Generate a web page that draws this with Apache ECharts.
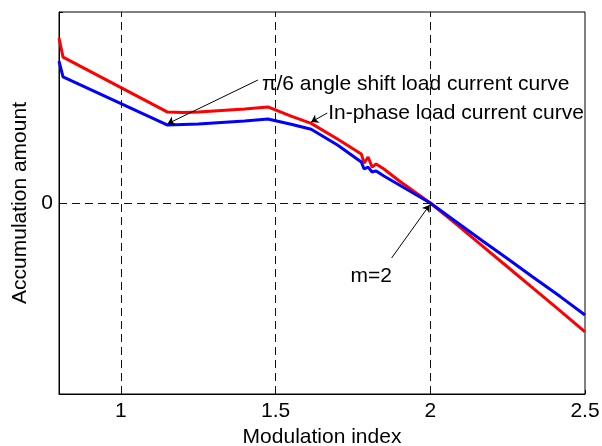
<!DOCTYPE html>
<html>
<head>
<meta charset="utf-8">
<script src="https://cdn.jsdelivr.net/npm/echarts@6/dist/echarts.min.js"></script>
<style>
  html, body { margin: 0; padding: 0; background: #fff; }
  #chart { width: 602px; height: 446px; }
</style>
</head>
<body>
<div id="chart"></div>
<script>
// modulation index samples
var mIndex = [0.800, 0.813, 1.151, 1.20, 1.25, 1.30, 1.35, 1.40, 1.475, 1.55, 1.615, 1.70,
  1.777, 1.786, 1.799, 1.812, 1.825, 1.85, 1.90, 1.95, 2.00, 2.08, 2.167, 2.25, 2.329, 2.42, 2.50]
// in-phase load current curve (red)
var inPhase = [0.864, 0.764, 0.476, 0.474, 0.476, 0.482, 0.487, 0.492, 0.503, 0.455, 0.417, 0.335,
  0.257, 0.209, 0.241, 0.188, 0.204, 0.178, 0.115, 0.058, 0, -0.105, -0.223, -0.335, -0.442, -0.565, -0.675]
// pi/6 angle shift load current curve (blue)
var shifted = [0.743, 0.660, 0.408, 0.411, 0.414, 0.419, 0.424, 0.429, 0.440, 0.412, 0.386, 0.304,
  0.215, 0.178, 0.188, 0.162, 0.168, 0.141, 0.094, 0.047, 0, -0.094, -0.196, -0.292, -0.385, -0.490, -0.586]

var xTicks = [1, 1.5, 2, 2.5]
var gridX = [1, 1.5, 2]
var gridY = [0]

// annotations: text anchor [x, y], arrow tail, arrow head
var notes = [
  { text: 'π/6 angle shift load current curve', at: [1.456, 0.623], from: [1.443, 0.644], to: [1.151, 0.415] },
  { text: 'In-phase load current curve', at: [1.670, 0.471], from: [1.667, 0.471], to: [1.615, 0.424] },
  { text: 'm=2', at: [1.742, -0.382], from: [1.875, -0.288], to: [1.998, -0.01] }
]

var font = 'Liberation Sans, Arial, sans-serif'

function pairs(xs, ys) {
  return xs.map(function (x, i) { return [x, ys[i]] })
}

var chart = echarts.init(document.getElementById('chart'))

var gridLines = gridX.map(function (v) { return { xAxis: v } })
  .concat(gridY.map(function (v) { return { yAxis: v } }))

var arrows = notes.map(function (n) {
  return [{ coord: n.from }, { coord: n.to }]
})

chart.setOption({
  backgroundColor: '#fff',
  animation: false,
  grid: {
    left: 59,
    right: 17,
    top: 12,
    bottom: 52,
    outerBoundsMode: 'none',
    containLabel: false,
    show: true,
    borderColor: '#000',
    borderWidth: 1
  },
  xAxis: {
    type: 'value',
    min: 0.8,
    max: 2.5,
    name: 'Modulation index',
    nameLocation: 'middle',
    nameGap: 30,
    nameTextStyle: { color: '#000', fontSize: 21, fontFamily: font },
    axisLine: { onZero: false, lineStyle: { color: '#000' } },
    axisTick: { show: true, inside: true, length: 4, customValues: xTicks, lineStyle: { color: '#000' } },
    axisLabel: { customValues: xTicks, color: '#000', fontSize: 21, fontFamily: font, margin: 7 },
    splitLine: { show: false }
  },
  yAxis: {
    type: 'value',
    min: -1,
    max: 1,
    interval: 1,
    name: 'Accumulation amount',
    nameLocation: 'middle',
    nameGap: 28,
    nameTextStyle: { color: '#000', fontSize: 21, fontFamily: font },
    axisLine: { onZero: false, lineStyle: { color: '#000' } },
    axisTick: { show: true, inside: true, length: 4, lineStyle: { color: '#000' } },
    axisLabel: {
      color: '#000', fontSize: 21, fontFamily: font, margin: 6,
      formatter: function (v) { return v === 0 ? '0' : '' }
    },
    splitLine: { show: false }
  },
  series: [
    {
      name: 'grid',
      type: 'line',
      data: [],
      z: 1,
      markLine: {
        silent: true,
        symbol: ['none', 'none'],
        label: { show: false },
        lineStyle: { color: '#111', width: 1, type: [8, 5] },
        data: gridLines
      }
    },
    {
      name: 'In-phase load current curve',
      type: 'line',
      data: pairs(mIndex, inPhase),
      showSymbol: false,
      z: 3,
      lineStyle: { color: '#ff0000', width: 3 },
      itemStyle: { color: '#ff0000' }
    },
    {
      name: 'π/6 angle shift load current curve',
      type: 'line',
      data: pairs(mIndex, shifted),
      showSymbol: false,
      z: 4,
      lineStyle: { color: '#0000ff', width: 3 },
      itemStyle: { color: '#0000ff' }
    },
    {
      name: 'notes',
      type: 'line',
      data: [],
      z: 6,
      markLine: {
        silent: true,
        symbol: ['none', 'arrow'],
        symbolSize: 7,
        label: { show: false },
        lineStyle: { color: '#000', width: 1, type: 'solid' },
        data: arrows
      }
    }
  ]
})

// place annotation texts at their data anchors
chart.setOption({
  graphic: notes.map(function (n) {
    var p = chart.convertToPixel({ gridIndex: 0 }, n.at)
    return {
      type: 'text',
      x: p[0],
      y: p[1],
      z: 10,
      style: {
        text: n.text,
        fill: '#000',
        font: '21px ' + font,
        verticalAlign: 'middle',
        align: 'left'
      }
    }
  })
})
</script>
</body>
</html>
